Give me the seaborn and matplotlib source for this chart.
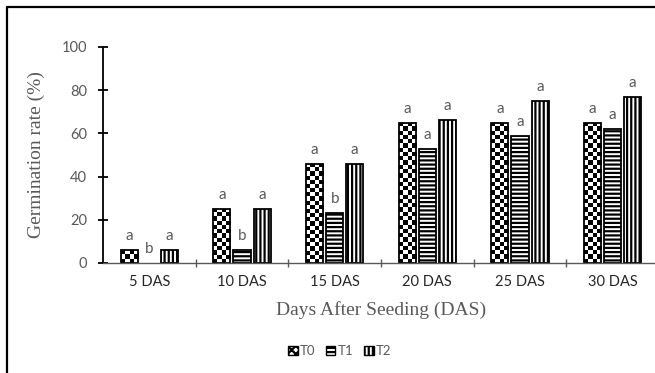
import numpy as np
import pandas as pd
import matplotlib
matplotlib.use('Agg')
import matplotlib.pyplot as plt
import seaborn as sns
from matplotlib.patches import Patch
from matplotlib.lines import Line2D
from matplotlib.ticker import FixedLocator

days = ['5 DAS', '10 DAS', '15 DAS', '20 DAS', '25 DAS', '30 DAS']
treatments = ['T0', 'T1', 'T2']
t0 = [6, 25, 46, 65, 65, 65]
t1 = [0, 6, 23, 53, 59, 62]
t2 = [6, 25, 46, 66, 75, 77]
t0_letters = ['a', 'a', 'a', 'a', 'a', 'a']
t1_letters = ['b', 'b', 'b', 'a', 'a', 'a']
t2_letters = ['a', 'a', 'a', 'a', 'a', 'a']

df = pd.DataFrame({
    'day': days * 3,
    'rate': t0 + t1 + t2,
    'trt': ['T0'] * 6 + ['T1'] * 6 + ['T2'] * 6,
})

grey = '#595959'
sns.set_style('white')
plt.rcParams['hatch.linewidth'] = 1.6

fig = plt.figure(figsize=(6.55, 3.73), dpi=100)
ax = fig.add_axes([103 / 655, 1 - 263 / 373, 556 / 655, 216 / 373])

sns.barplot(data=df, x='day', y='rate', hue='trt', palette=['white'] * 3,
            width=0.65, gap=0.15, edgecolor='black', linewidth=1.3,
            legend=False, ax=ax)

# hatches for T1 / T2, checkerboard image for T0
for bar in ax.containers[1]:
    bar.set_hatch('----')
for bar in ax.containers[2]:
    bar.set_hatch('||||')
for cont in ax.containers:
    for bar in cont:
        if bar.get_height() == 0:
            bar.set_linewidth(0)

px_per_y = 216 / 100
for bar in ax.containers[0]:
    bar.set_facecolor('none')
    x0, w, h = bar.get_x(), bar.get_width(), bar.get_height()
    nrows = max(1, int(round(h * px_per_y / 4.2)))
    chk = np.add.outer(np.arange(nrows), np.arange(4)) % 2
    im = ax.imshow(chk, cmap='gray', extent=(x0, x0 + w, 0, h), aspect='auto',
                   interpolation='nearest', origin='lower', zorder=0.8)
    im.set_clip_path(bar)

for cont, lab in zip(ax.containers, [t0_letters, t1_letters, t2_letters]):
    ax.bar_label(cont, labels=lab, padding=5, color=grey, fontsize=11,
                 family='Lato')

ax.set_xlim(-0.5, 5.5)
ax.set_ylim(0, 100)
ax.set_yticks([0, 20, 40, 60, 80, 100])
ax.xaxis.set_minor_locator(FixedLocator([0.5, 1.5, 2.5, 3.5, 4.5, 5.5]))
ax.tick_params(axis='x', which='major', length=0, pad=9, labelsize=10.5,
               labelcolor='#262626')
ax.tick_params(axis='x', which='minor', direction='inout', length=6,
               width=1, color=grey, bottom=True)
ax.tick_params(axis='y', direction='inout', length=7, width=1.3,
               color='black', left=True, pad=8, labelsize=10.5, labelcolor=grey)
for lbl in ax.get_xticklabels() + ax.get_yticklabels():
    lbl.set_family('Lato')

for s in ['top', 'right']:
    ax.spines[s].set_visible(False)
ax.spines['left'].set_color('black')
ax.spines['left'].set_linewidth(1.3)
ax.spines['bottom'].set_color(grey)
ax.spines['bottom'].set_linewidth(1.0)

ax.set_xlabel('Days After Seeding (DAS)', family='Liberation Serif',
              fontsize=14, color=grey, labelpad=8)
ax.set_ylabel('Germination rate (%)', family='Liberation Serif',
              fontsize=14, color=grey, labelpad=12)

handles = [
    Patch(facecolor='white', edgecolor='black', hatch='xxxx', label='T0'),
    Patch(facecolor='white', edgecolor='black', hatch='----', label='T1'),
    Patch(facecolor='white', edgecolor='black', hatch='||||', label='T2'),
]
fig.legend(handles=handles, loc='center', bbox_to_anchor=(340 / 655, 1 - 351 / 373),
           ncol=3, frameon=False, handlelength=0.7, handleheight=0.7,
           handletextpad=0.2, columnspacing=0.8, prop={'family': 'Lato', 'size': 9.5},
           labelcolor=grey)

# frame lines (left and top) of the original picture
fig.add_artist(Line2D([7 / 655, 7 / 655], [0, 1 - 7 / 373], color='black', lw=1.6))
fig.add_artist(Line2D([7 / 655, 1], [1 - 7 / 373, 1 - 7 / 373], color='black', lw=1.6))

fig.savefig('out.png', dpi=100)
